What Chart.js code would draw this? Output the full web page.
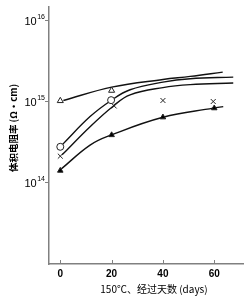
<!DOCTYPE html>
<html>
<head>
<meta charset="utf-8">
<script src="https://cdn.jsdelivr.net/npm/chart.js@4/dist/chart.umd.min.js"></script>
<style>
html,body{margin:0;padding:0;background:#fff;}
#wrap{width:248px;height:300px;}
</style>
</head>
<body>
<div id="wrap"><canvas id="c" width="248" height="300"></canvas></div>
<script>
// ---- data ----
const xTicks = [0, 20, 40, 60];
const yTicks = [1e14, 1e15, 1e16];
const yTickBases = ['10', '10', '10'];
const yTickExps = ['14', '15', '16'];

// measured points (days, volume resistivity Ω·cm)
const openTriDays = [0, 20];
const openTriVals = [1.03e15, 1.38e15];
const openCircDays = [0, 19.8];
const openCircVals = [2.79e14, 1.05e15];
const crossDays = [0, 21, 40, 59.6];
const crossVals = [2.14e14, 8.9e14, 1.04e15, 1.01e15];
const filledTriDays = [0, 20, 40, 60];
const filledTriVals = [1.42e14, 3.9e14, 6.46e14, 8.36e14];

// fitted curves
const curve1Days = [1.2, 20, 40, 50.6, 63.3];
const curve1Vals = [1.04e15, 1.52e15, 1.89e15, 2.06e15, 2.33e15];
const curve2Days = [0.9, 11.6, 19.8, 27.2, 40, 50.6, 67.4];
const curve2Vals = [2.99e14, 6.58e14, 1.04e15, 1.41e15, 1.75e15, 1.93e15, 2.02e15];
const curve3Days = [0.7, 11.6, 20.7, 27.2, 40, 50.6, 67.4];
const curve3Vals = [2.22e14, 4.94e14, 8.91e14, 1.22e15, 1.50e15, 1.63e15, 1.71e15];
const curve4Days = [0.4, 11.6, 19.8, 40, 59.6, 63.5];
const curve4Vals = [1.49e14, 2.93e14, 3.90e14, 6.46e14, 8.36e14, 8.75e14];

const xTitle = '150℃、经过天数 (days)';
const yTitle = '体积电阻率 (Ω・cm)';

const pts = (xs, ys) => xs.map((x, i) => ({x: x, y: ys[i]}));
const AXIS = '#808080';

function curve(xs, ys) {
  return {type: 'line', data: pts(xs, ys), borderColor: '#111', borderWidth: 1.4,
    pointRadius: 0, fill: false, tension: 0.4, order: 2};
}
function marker(xs, ys, style, fillCol, r) {
  return {type: 'scatter', data: pts(xs, ys), pointStyle: style, pointRadius: r,
    pointBackgroundColor: fillCol, pointBorderColor: '#222', pointBorderWidth: 1,
    showLine: false, order: 1};
}

const titlesPlugin = {
  id: 'titles',
  afterDraw(chart) {
    const ctx = chart.ctx;
    const xs = chart.scales.x;
    const ys = chart.scales.y;
    ctx.save();
    // inside tick marks on x axis
    ctx.strokeStyle = AXIS; ctx.lineWidth = 1;
    xTicks.forEach(v => {
      const px = Math.round(xs.getPixelForValue(v)) + 0.5;
      ctx.beginPath(); ctx.moveTo(px, xs.top); ctx.lineTo(px, xs.top - 4); ctx.stroke();
    });
    // y tick labels with superscripts
    ctx.fillStyle = '#000';
    ctx.textBaseline = 'middle';
    yTicks.forEach((v, i) => {
      const py = ys.getPixelForValue(v);
      ctx.textAlign = 'right';
      ctx.font = '7px "Liberation Sans"';
      const ew = ctx.measureText(yTickExps[i]).width;
      ctx.fillText(yTickExps[i], 45, py - 4);
      ctx.font = '11px "Liberation Sans"';
      ctx.fillText(yTickBases[i], 45 - ew - 0.5, py + 1);
    });
    ctx.font = '10px "Noto Sans CJK SC"';
    ctx.textAlign = 'center';
    ctx.fillText(xTitle, 154, 289);
    ctx.translate(13, 128);
    ctx.rotate(-Math.PI / 2);
    ctx.font = 'bold 9.5px "Noto Sans CJK SC"';
    ctx.fillText(yTitle, 0, 0);
    ctx.restore();
  }
};

new Chart(document.getElementById('c'), {
  data: {
    datasets: [
      curve(curve1Days, curve1Vals),
      curve(curve2Days, curve2Vals),
      curve(curve3Days, curve3Vals),
      curve(curve4Days, curve4Vals),
      marker(openTriDays, openTriVals, 'triangle', '#fff', 3.5),
      marker(openCircDays, openCircVals, 'circle', '#fff', 3.5),
      marker(crossDays, crossVals, 'crossRot', '#fff', 3.5),
      marker(filledTriDays, filledTriVals, 'triangle', '#000', 3.2)
    ]
  },
  options: {
    responsive: false,
    animation: false,
    layout: {padding: {left: 0, right: 5, top: 7, bottom: 0}},
    plugins: {legend: {display: false}, tooltip: {enabled: false}},
    scales: {
      x: {
        type: 'linear', position: 'bottom', min: -4.4, max: 71.2,
        afterBuildTicks: s => { s.ticks = xTicks.map(v => ({value: v})); },
        afterFit: s => { s.height = 36; },
        border: {display: true, color: AXIS, width: 1.5},
        grid: {drawOnChartArea: false, drawTicks: false},
        ticks: {color: '#000', padding: 4, font: {family: 'Liberation Sans', size: 10, weight: 'bold'}}
      },
      y: {
        type: 'logarithmic', min: 1e13, max: 1.48e16,
        afterBuildTicks: s => { s.ticks = yTicks.map(v => ({value: v})); },
        afterFit: s => { s.width = 49; },
        border: {display: true, color: AXIS, width: 1.5},
        grid: {drawOnChartArea: false, drawTicks: true, tickLength: 4, color: AXIS},
        ticks: {display: false}
      }
    }
  },
  plugins: [titlesPlugin]
});
</script>
</body>
</html>
